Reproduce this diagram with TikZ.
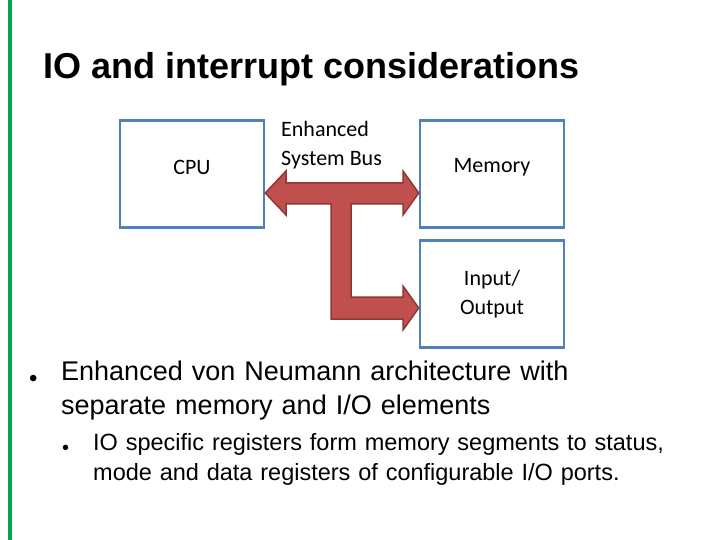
\documentclass[tikz,border=0pt]{standalone}
\usepackage{fontspec}
\setmainfont{Liberation Sans}
\newfontfamily\calfont{Carlito}
\definecolor{grbar}{RGB}{0,166,81}
\definecolor{boxb}{RGB}{79,129,189}
\definecolor{busf}{RGB}{192,80,77}
\definecolor{busd}{RGB}{140,56,54}
\begin{document}
\begin{tikzpicture}[x=1pt,y=-1pt,
  box/.style={draw=boxb, line width=2.5pt, minimum width=144pt, minimum height=107pt, inner sep=0pt},
  lbl/.style={font=\calfont\fontsize{22}{29}\selectfont, align=center},
  txt/.style={anchor=base west, inner sep=0pt}]
\useasboundingbox (0,0) rectangle (720,540);
\fill[grbar] (8,0) rectangle (12,540);
\node[txt,font=\bfseries\fontsize{36}{40}\selectfont] (title) at (43,79) {IO and interrupt considerations};
\node[box] (cpu) at (192,174) {};
\node[lbl] (cput) at (192,167) {CPU};
\node[box] (mem) at (492,174) {};
\node[lbl] (memt) at (492,167) {Memory};
\node[box] (io) at (492,294) {};
\node[lbl] (iot) at (io) {Input/\\Output};
\node[lbl, anchor=north west, align=left, inner sep=0pt] (bus) at (281,121) {Enhanced\\System Bus};
\filldraw[fill=busf, draw=busd, line width=1.5pt, line join=miter]
  (cpu.east |- 0,193) -- (286,171) -- (286,183) -- (403,183) -- (403,171) -- (mem.west |- 0,193)
  -- (403,215) -- (403,204) -- (351,204) -- (351,297) -- (403,297) -- (403,286) -- (io.west |- 0,308)
  -- (403,330) -- (403,319) -- (331,319) -- (331,204) -- (286,204) -- (286,215) -- cycle;
\node[txt,font=\fontsize{24}{30}\selectfont] (b1) at (29,386) {\textbullet};
\node[txt,font=\fontsize{27}{34}\selectfont, anchor=north west, text width=600pt, align=left] (t1) at (61,361) {Enhanced von Neumann architecture with\\separate memory and I/O elements};
\node[txt,font=\fontsize{20}{30}\selectfont] (b2) at (62,454) {\textbullet};
\node[txt,font=\fontsize{23.5}{30}\selectfont, anchor=north west, text width=620pt, align=left] (t2) at (93,433) {IO specific registers form memory segments to status,\\mode and data registers of configurable I/O ports.};
\end{tikzpicture}
\end{document}
